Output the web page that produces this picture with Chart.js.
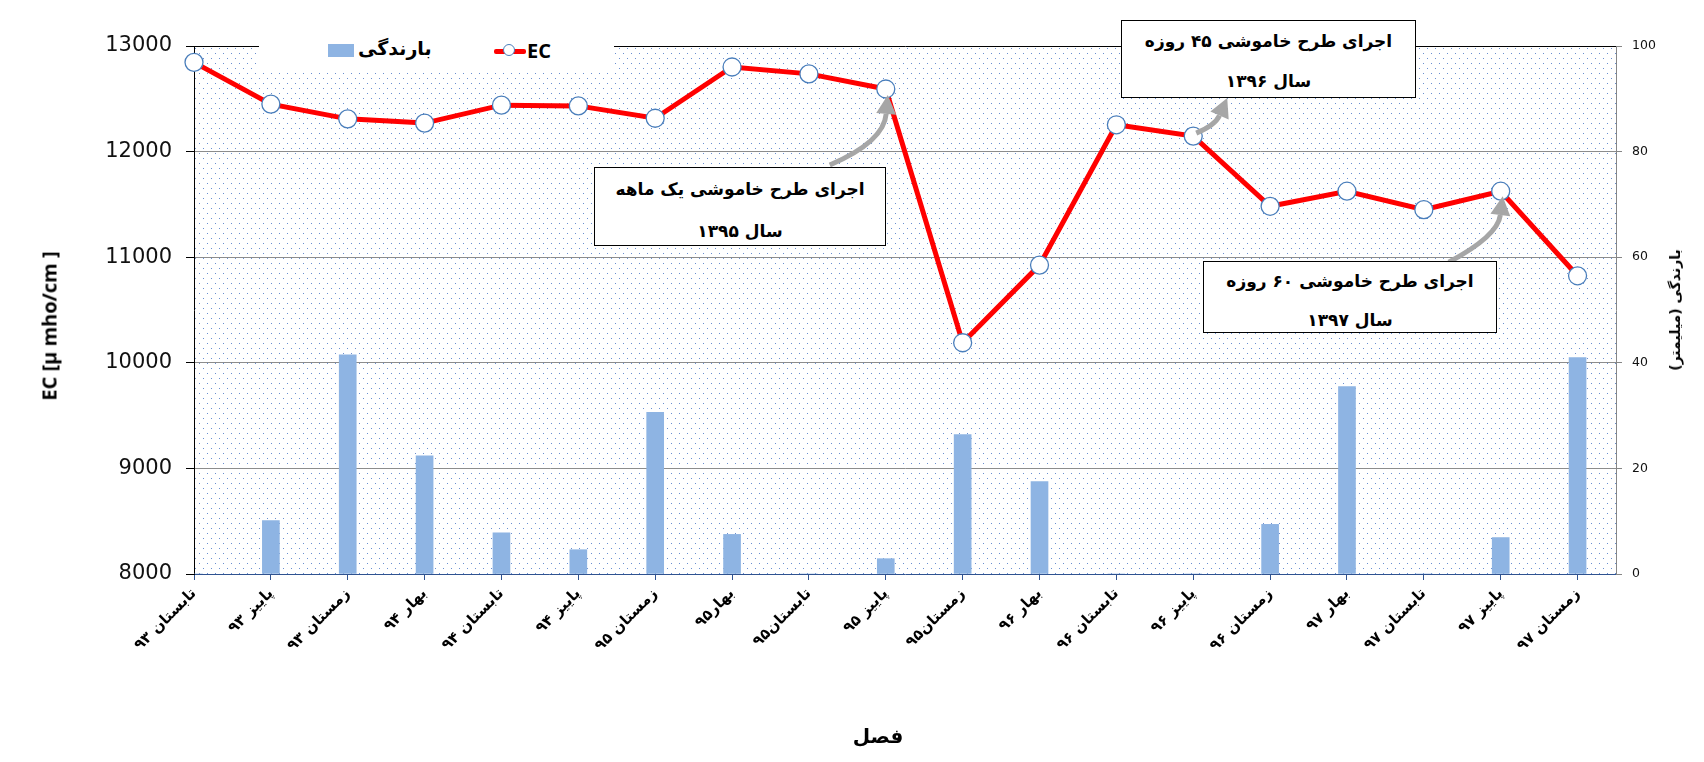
<!DOCTYPE html>
<html lang="fa">
<head>
<meta charset="utf-8">
<title>EC و بارندگی</title>
<script src="https://cdn.jsdelivr.net/npm/chart.js@4.4.1/dist/chart.umd.min.js"></script>
<style>
  html, body { margin: 0; padding: 0; background: #fff; }
  #wrap { position: relative; width: 1704px; height: 762px; font-family: "DejaVu Sans", sans-serif; color: #000; }
  #chart { position: absolute; left: 0; top: 0; }
  .legend { position: absolute; left: 259px; top: 28px; width: 355px; height: 45px; background: #fff; }
  .legend .sw-bar { position: absolute; left: 69px; top: 16px; width: 26px; height: 13px; background: #8eb4e3; }
  .legend .t-bar { position: absolute; left: 99px; top: 9px; font-size: 19px; font-weight: bold; direction: rtl; }
  .legend .sw-line { position: absolute; left: 235px; top: 21px; width: 32px; height: 5px; background: #ff0000; border-radius: 2px; }
  .legend .sw-dot { position: absolute; left: 244px; top: 16px; width: 12px; height: 12px; box-sizing: border-box; border-radius: 50%; background: #fff; border: 1px solid #4a7ebb; }
  .legend .t-line { position: absolute; left: 268px; top: 9px; font-size: 20px; font-weight: bold; font-family: "Open Sans", sans-serif; }
  .note { position: absolute; box-sizing: border-box; background: #fff; border: 1.5px solid #000; text-align: center; direction: rtl; font-size: 17px; font-weight: bold; line-height: 40px; white-space: nowrap; }
  .axis-title { position: absolute; font-weight: bold; white-space: nowrap; transform: translate(-50%, -50%) rotate(-90deg); }
  .x-title { position: absolute; font-weight: bold; font-size: 20px; transform: translate(-50%, -50%); direction: rtl; }
</style>
</head>
<body>
<div id="wrap">
  <canvas id="chart" width="1704" height="762"></canvas>

  <div class="legend">
    <span class="sw-bar"></span><span class="t-bar">بارندگی</span>
    <span class="sw-line"></span><span class="sw-dot"></span><span class="t-line">EC</span>
  </div>

  <div class="note" style="left:594px;top:167px;width:292px;height:79px;line-height:42px;">اجرای طرح خاموشی یک ماهه<br>سال ۱۳۹۵</div>
  <div class="note" style="left:1121px;top:20px;width:295px;height:78px;">اجرای طرح خاموشی ۴۵ روزه<br>سال ۱۳۹۶</div>
  <div class="note" style="left:1203px;top:261px;width:294px;height:72px;line-height:39px;">اجرای طرح خاموشی ۶۰ روزه<br>سال ۱۳۹۷</div>

  <div class="axis-title" style="left:49px;top:326px;font-size:20px;font-family:'Open Sans',sans-serif;">EC [µ mho/cm ]</div>
  <div class="axis-title" style="left:1675px;top:310px;font-size:14px;direction:rtl;">بارندگی (میلیمتر)</div>
  <div class="x-title" style="left:878px;top:736px;">فصل</div>
</div>

<script>
/* EC and rainfall per season, 1393-1397. */
var SEASONS = [
  "تابستان ۹۳", "پاییز ۹۳", "زمستان ۹۳", "بهار ۹۴", "تابستان ۹۴", "پاییز ۹۴",
  "زمستان ۹۵", "بهار۹۵", "تابستان۹۵", "پاییز ۹۵", "زمستان۹۵", "بهار ۹۶",
  "تابستان ۹۶", "پاییز ۹۶", "زمستان ۹۶", "بهار ۹۷", "تابستان ۹۷", "پاییز ۹۷", "زمستان ۹۷"
];
var EC = [12845, 12450, 12310, 12270, 12440, 12433, 12316, 12801, 12736, 12593,
          10190, 10925, 12254, 12147, 11482, 11625, 11450, 11625, 10824];
var RAIN = [0, 10.1, 41.5, 22.4, 7.8, 4.6, 30.6, 7.5, 0, 2.9,
            26.4, 17.5, 0, 0, 9.4, 35.5, 0, 6.9, 41.0];
var EC_TICKS = [8000, 9000, 10000, 11000, 12000, 13000];
var RAIN_TICKS = [0, 20, 40, 60, 80, 100];

var FONT = "DejaVu Sans";

// Gray callout arrows, anchored to an EC point (offsets in px from that point).
var ARROWS = [
  { at: 9,  tail: [-56, 76], ctrl: [-2, 53],  tip: [2, 6] },
  { at: 13, tail: [3, -3],   ctrl: [22, -11], tip: [34, -38] },
  { at: 17, tail: [-52, 71], ctrl: [-3, 45],  tip: [2, 5] }
];

/* ---------- plot background: white with a fine blue dot pattern ---------- */
var dotsPlugin = {
  id: "dots",
  beforeDraw: function (chart) {
    var a = chart.chartArea, ctx = chart.ctx;
    var p = document.createElement("canvas");
    p.width = 8; p.height = 10;
    var pc = p.getContext("2d");
    pc.fillStyle = "rgba(68,114,196,0.8)";
    pc.fillRect(1, 2, 1, 1);
    pc.fillRect(5, 7, 1, 1);
    ctx.save();
    ctx.fillStyle = "#fff";
    ctx.fillRect(0, 0, chart.width, chart.height);
    ctx.translate(a.left, a.top);
    ctx.fillStyle = ctx.createPattern(p, "repeat");
    ctx.fillRect(0, 0, a.right - a.left, a.bottom - a.top);
    ctx.restore();
  }
};

/* ---------- curved gray arrows pointing at the events ---------- */
var arrowPlugin = {
  id: "arrows",
  afterDatasetsDraw: function (chart) {
    var xs = chart.scales.x, ys = chart.scales.y, ctx = chart.ctx;
    ARROWS.forEach(function (a) {
      var px = xs.getPixelForValue(a.at), py = ys.getPixelForValue(EC[a.at]);
      var tx = px + a.tail[0], ty = py + a.tail[1];
      var cx = px + a.ctrl[0], cy = py + a.ctrl[1];
      var hx = px + a.tip[0], hy = py + a.tip[1];
      var ang = Math.atan2(hy - cy, hx - cx);
      var L = 19, W = 10;
      var bx = hx - L * Math.cos(ang), by = hy - L * Math.sin(ang);
      ctx.save();
      ctx.strokeStyle = "#a6a6a6";
      ctx.fillStyle = "#a6a6a6";
      ctx.lineWidth = 5;
      ctx.beginPath();
      ctx.moveTo(tx, ty);
      ctx.quadraticCurveTo(cx, cy, bx, by);
      ctx.stroke();
      ctx.beginPath();
      ctx.moveTo(hx, hy);
      ctx.lineTo(bx + W * Math.sin(ang), by - W * Math.cos(ang));
      ctx.lineTo(bx - W * Math.sin(ang), by + W * Math.cos(ang));
      ctx.closePath();
      ctx.fill();
      ctx.restore();
    });
  }
};

function pts(values) {
  return values.map(function (v, i) { return { x: i, y: v }; });
}

new Chart(document.getElementById("chart"), {
  type: "line",
  data: {
    datasets: [
      {
        type: "line", label: "EC", data: pts(EC), yAxisID: "y", order: 0,
        borderColor: "#ff0000", borderWidth: 5, tension: 0, clip: false,
        pointRadius: 9, pointBackgroundColor: "#ffffff", pointBorderColor: "#4a7ebb", pointBorderWidth: 1.3
      },
      {
        type: "bar", label: "بارندگی", data: pts(RAIN), yAxisID: "y1", order: 1,
        backgroundColor: "#8eb4e3", barThickness: 17
      }
    ]
  },
  options: {
    responsive: false, animation: false,
    layout: { padding: { top: 46, left: 0, right: 0, bottom: 0 } },
    plugins: { legend: { display: false }, tooltip: { enabled: false } },
    scales: {
      x: {
        type: "linear", min: 0, max: 18.5, offset: false,
        afterBuildTicks: function (s) { s.ticks = SEASONS.map(function (_, i) { return { value: i }; }); },
        afterFit: function (s) { s.height = 188; },
        ticks: {
          autoSkip: false, minRotation: 45, maxRotation: 45, padding: 5, color: "#000",
          font: { family: FONT, size: 15, weight: "bold" },
          callback: function (v) { return SEASONS[v]; }
        },
        grid: { display: true, offset: false, drawOnChartArea: false, drawTicks: true, tickLength: 6, color: "#2f528f" },
        border: { display: true, color: "#2f528f", width: 1 }
      },
      y: {
        position: "left", min: 8000, max: 13000,
        afterBuildTicks: function (s) { s.ticks = EC_TICKS.map(function (v) { return { value: v }; }); },
        afterFit: function (s) { s.width = 194; },
        ticks: {
          padding: 14, color: "#111", font: { family: FONT, size: 21 },
          callback: function (v) { return String(v); }
        },
        grid: {
          tickLength: 8, tickColor: "#000",
          color: function (c) {
            var v = c.tick && c.tick.value;
            if (v === 13000) return "#000";
            if (v === 8000) return "rgba(0,0,0,0)";
            return "#8c8c8c";
          }
        },
        border: { color: "#000", width: 1 }
      },
      y1: {
        position: "right", min: 0, max: 100,
        afterBuildTicks: function (s) { s.ticks = RAIN_TICKS.map(function (v) { return { value: v }; }); },
        afterFit: function (s) { s.width = 88; },
        ticks: { padding: 10, color: "#111", font: { family: FONT, size: 12.5 } },
        grid: { drawOnChartArea: false, tickLength: 6, color: "#868686" },
        border: { color: "#868686", width: 1 }
      }
    }
  },
  plugins: [dotsPlugin, arrowPlugin]
});
</script>
</body>
</html>
